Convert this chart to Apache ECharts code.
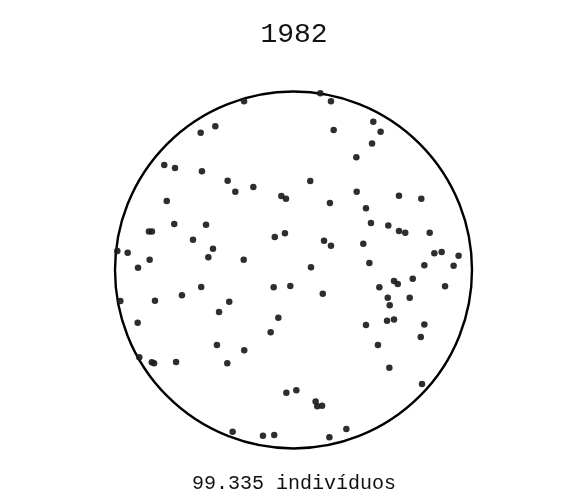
<!DOCTYPE html>
<html>
<head>
<meta charset="utf-8">
<script src="https://cdn.jsdelivr.net/npm/echarts@6/dist/echarts.min.js"></script>
<style>html,body{margin:0;padding:0;background:#fff}#c{width:588px;height:504px}</style>
</head>
<body>
<div id="c"></div>
<script>
const titleText = '1982';
const footerText = '99.335 indivíduos';
const xValues = [
 -27.7,-43.8,-52.0,-72.4,-66.4,-51.3,-36.9,-32.6,-22.5,-6.8,-4.2,-71.0,-66.8,-49.0,-81.0,-79.3,-56.3,-45.1,-47.7,-27.9,-10.5,-4.8,-98.7,-92.9,-80.6,-87.1,
 15.0,21.0,44.7,22.5,48.8,44.0,35.2,9.4,35.4,59.1,71.6,20.4,40.6,43.4,53.1,59.1,62.6,76.3,17.1,21.0,39.1,78.9,83.0,92.5,42.5,73.3,89.7,9.8,
 -51.7,-62.5,-11.1,-1.8,-97.0,-77.6,-36.0,-41.7,-8.5,-87.3,-12.8,-42.9,-27.6,-86.4,-79.4,-78.1,-65.8,-37.1,-4.0,1.6,-34.1,-17.1,-10.8,
 16.4,48.1,56.3,58.4,66.8,84.9,52.8,65.1,53.9,40.6,52.4,56.3,73.3,71.3,47.3,53.7,72.0,12.4,13.3,16.0,29.6,20.1
];
const yValues = [
 94.5,80.5,76.9,58.8,57.1,55.3,50.0,43.9,46.5,41.5,39.9,38.7,25.8,25.4,21.5,21.5,17.0,11.9,7.1,5.8,18.5,20.6,10.6,9.7,5.8,1.3,
 99.0,94.5,83.1,78.4,77.5,70.8,63.1,49.9,43.9,41.6,39.9,37.5,34.6,26.3,25.0,21.8,20.9,20.9,16.4,13.6,14.7,9.4,10.1,8.0,3.9,2.6,2.4,1.5,
 -9.5,-14.2,-9.7,-9.0,-17.4,-17.2,-17.8,-23.5,-26.7,-29.5,-34.9,-42.0,-45.0,-48.9,-51.7,-52.3,-51.5,-52.3,-68.7,-67.4,-90.6,-92.8,-92.4,
 -13.3,-9.7,-6.2,-7.8,-4.9,-9.1,-15.5,-15.5,-19.8,-30.8,-28.4,-27.8,-30.6,-37.5,-42.0,-54.7,-63.9,-73.6,-76.4,-76.0,-89.1,-93.7
];
const points = xValues.map((x, i) => [x, yValues[i]]);
const FONT = 'Liberation Mono';
const chart = echarts.init(document.getElementById('c'), null, {renderer: 'canvas'});
chart.setOption({
  animation: false,
  backgroundColor: '#ffffff',
  title: [
    {text: titleText, left: 'center', top: 16,
     textStyle: {fontFamily: FONT, fontSize: 28, fontWeight: 'normal', color: '#111'}},
    {text: footerText, left: 'center', top: 469,
     textStyle: {fontFamily: FONT, fontSize: 20, fontWeight: 'normal', color: '#111'}}
  ],
  polar: {center: [293.5, 270], radius: 178.5},
  angleAxis: {
    type: 'value', min: 0, max: 360,
    axisLine: {show: true, lineStyle: {color: '#000', width: 2.4}},
    axisTick: {show: false}, axisLabel: {show: false}, splitLine: {show: false}
  },
  radiusAxis: {show: false, min: 0, max: 1},
  grid: {left: 115, top: 91.5, width: 357, height: 357},
  xAxis: {type: 'value', min: -100, max: 100, show: false},
  yAxis: {type: 'value', min: -100, max: 100, show: false},
  series: [{
    type: 'scatter',
    data: points,
    symbolSize: 6.5,
    itemStyle: {color: '#1c1c1c', opacity: 0.92}
  }]
});
</script>
</body>
</html>
